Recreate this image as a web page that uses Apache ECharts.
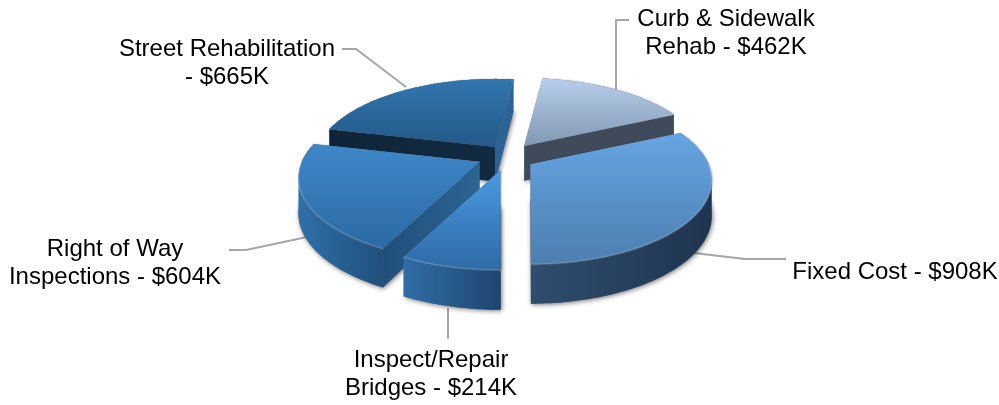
<!DOCTYPE html>
<html>
<head>
<meta charset="utf-8">
<style>
  html, body { margin: 0; padding: 0; background: #fff; }
  #chart { width: 999px; height: 405px; }
</style>
</head>
<body>
<div id="chart"></div>
<script src="https://cdn.jsdelivr.net/npm/echarts@6/dist/echarts.min.js"></script>
<script>
// 数据
const categories = ['Curb & Sidewalk\nRehab', 'Fixed Cost', 'Inspect/Repair\nBridges', 'Right of Way\nInspections', 'Street Rehabilitation\n'];
const values = [462, 908, 214, 604, 665];

// 每块的配色：顶面上下渐变 + 外壁 + 两个切面
const topColors = [['#b7cfec', '#8297b4'], ['#66a5e3', '#4d7eb0'], ['#4a9ae2', '#2e6aa6'], ['#3f87c9', '#2b6aa3'], ['#3176ae', '#245888']];
const sideColors = [['#3f4a5a', '#3f4a5a'], ['#2f4d6e', '#1f3450'], ['#2f6ea6', '#1e4570'], ['#2f70a9', '#204f7c'], ['#10273c', '#10273c']];
const startCutColors = [['#3f4a5a', '#3f4a5a'], ['#2d4a6a', '#2d4a6a'], ['#1e4570', '#1e4570'], ['#214f7b', '#2c6494'], ['#0f2438', '#122b42']];
const endCutColors = ['#3f4a5a', '#2d4a6a', '#2a5f90', '#2a6192', '#2a6496'];

// 每块的微调，贴合原图
const sliceNudge = [[-1, 0], [-2, 0], [-1, 0], [-2, -1], [4, 1]];

// 标签和引导线
const labelPos = [[726, 33], [895, 272], [431, 374], [115, 263], [227, 63]];
const leaders = [
  [[616, 90], [616, 20], [629, 20]],
  [[694, 253], [745, 259], [786, 259]],
  [[448, 308], [448, 339]],
  [[307, 237], [246, 250], [229, 250]],
  [[406, 87], [356, 49], [342, 49]]
];

// 伪3D饼图的投影参数
const cx = 508, cy = 157;
const R = 178, Ry = 81, persp = 0.19;
const explodeX = 29, explodeY = 13.5;
const depth = 35;
const startAngle = 7;

const total = values.reduce((a, b) => a + b, 0);

function rad (d) { return d * Math.PI / 180; }

// 角度从正上方顺时针算
function project (ox, oy, angle) {
  const u = Math.sin(rad(angle));
  const v = -Math.cos(rad(angle));
  const s = 1 / (1 - persp * v);
  return [ox + R * u * s, oy + Ry * v * s];
}

function down (p) {
  const v = (p[1] - cy) / Ry;
  return [p[0], p[1] + depth * (1 + persp * v * 0.5)];
}

function wall (pts, colors, z2) {
  const bottom = pts.slice().reverse().map(down);
  return {
    type: 'polygon',
    z2: z2,
    shape: { points: pts.concat(bottom) },
    style: {
      fill: new echarts.graphic.LinearGradient(0, 0, 1, 0, [
        { offset: 0, color: colors[0] },
        { offset: 1, color: colors[1] }
      ])
    }
  };
}

function renderSlice (params, api) {
  const i = params.dataIndex;
  let a0 = startAngle;
  for (let k = 0; k < i; k++) a0 += values[k] / total * 360;
  const sweep = api.value(0) / total * 360;
  const a1 = a0 + sweep;
  const mid = (a0 + a1) / 2;

  const ox = cx + explodeX * Math.sin(rad(mid)) + sliceNudge[i][0];
  const oy = cy - explodeY * Math.cos(rad(mid)) + sliceNudge[i][1];

  // 后面的先画
  const rank = values.map((_, j) => {
    let s = startAngle;
    for (let k = 0; k < j; k++) s += values[k] / total * 360;
    return -Math.cos(rad(s + values[j] / total * 180));
  });
  const order = rank.filter(r => r < rank[i]).length;
  const base = (order + 1) * 10;

  const apex = [ox, oy];
  const arc = [];
  const steps = Math.ceil(sweep);
  for (let k = 0; k <= steps; k++) arc.push(project(ox, oy, a0 + sweep * k / steps));
  const outline = [apex].concat(arc);
  const children = [];

  // 底部的柔和阴影
  children.push({
    type: 'polygon',
    z2: base,
    shape: { points: outline },
    style: { fill: '#777', shadowBlur: 2, shadowColor: 'rgba(0,0,0,0.3)', shadowOffsetX: 1, shadowOffsetY: 0 }
  });
  children.push({
    type: 'polygon',
    z2: base,
    shape: { points: outline.map(down) },
    style: { fill: '#777', shadowBlur: 5, shadowColor: 'rgba(0,0,0,0.55)', shadowOffsetX: 1, shadowOffsetY: 1 }
  });

  // 切面：边向左走时朝向观众
  if (arc[0][0] < apex[0]) children.push(wall([apex, arc[0]], startCutColors[i], base + 1));
  if (apex[0] < arc[arc.length - 1][0]) {
    children.push(wall([arc[arc.length - 1], apex], [endCutColors[i], endCutColors[i]], base + 1));
  }

  // 外壁
  let run = [];
  const flush = () => {
    if (run.length > 1) children.push(wall(run, sideColors[i], base + 2));
    run = [];
  };
  for (let k = 0; k < arc.length - 1; k++) {
    if (arc[k + 1][0] < arc[k][0]) {
      if (!run.length) run.push(arc[k]);
      run.push(arc[k + 1]);
    } else {
      flush();
    }
  }
  flush();

  // 顶面
  children.push({
    type: 'polygon',
    z2: base + 3,
    shape: { points: outline },
    style: {
      fill: new echarts.graphic.LinearGradient(0, 0, 0, 1, [
        { offset: 0, color: topColors[i][0] },
        { offset: 1, color: topColors[i][1] }
      ])
    }
  });

  // 前缘高光
  children.push({
    type: 'polyline',
    z2: base + 4,
    shape: { points: arc.filter(p => p[1] > oy) },
    style: { fill: 'none', stroke: 'rgba(255,255,255,0.14)', lineWidth: 2 }
  });

  return { type: 'group', children: children };
}

const labelFont = '24px "Liberation Sans", Arial, sans-serif';

const graphics = [];
leaders.forEach(pts => {
  graphics.push({
    type: 'polyline',
    z: 1,
    shape: { points: pts },
    style: { fill: 'none', stroke: '#a6a6a6', lineWidth: 2 }
  });
});
categories.forEach((name, i) => {
  graphics.push({
    type: 'text',
    z: 5,
    x: labelPos[i][0],
    y: labelPos[i][1],
    style: {
      text: (name + ' - $' + values[i] + 'K').replace('\n ', '\n'),
      font: labelFont,
      fill: '#000',
      lineHeight: 28,
      align: 'center',
      verticalAlign: 'middle'
    }
  });
});

const myChart = echarts.init(document.getElementById('chart'), null, { renderer: 'canvas' });
myChart.setOption({
  animation: false,
  graphic: graphics,
  series: [
    {
      type: 'custom',
      coordinateSystem: 'none',
      z: 2,
      silent: true,
      renderItem: renderSlice,
      data: values.map(v => [v])
    }
  ]
});
</script>
</body>
</html>
